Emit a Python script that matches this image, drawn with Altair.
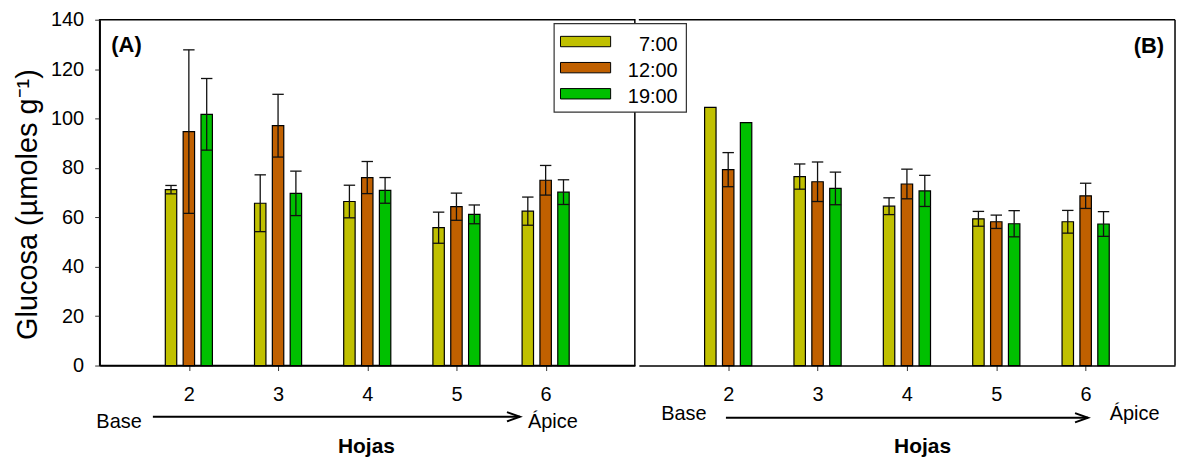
import altair as alt
import pandas as pd

# ---------------- data ----------------
leaves = [2, 3, 4, 5, 6]
series = ["7:00", "12:00", "19:00"]
colors = ["#C0C000", "#C06000", "#00C000"]

# Panel A
a_700 = [71.2, 65.7, 66.4, 55.8, 62.5]
a_700_err = [1.7, 11.5, 6.6, 6.3, 5.7]
a_1200 = [94.7, 97.1, 76.1, 64.3, 75.0]
a_1200_err = [33.1, 12.7, 6.5, 5.5, 6.0]
a_1900 = [101.7, 69.7, 70.9, 61.2, 70.2]
a_1900_err = [14.5, 9.0, 5.2, 3.8, 5.0]

# Panel B
b_700 = [104.5, 76.5, 64.5, 59.4, 58.2]
b_700_err = [None, 5.1, 3.4, 3.0, 4.6]
b_1200 = [79.3, 74.4, 73.5, 58.2, 68.7]
b_1200_err = [6.9, 8.0, 6.0, 2.7, 5.1]
b_1900 = [98.3, 71.7, 70.7, 57.4, 57.3]
b_1900_err = [None, 6.6, 6.3, 5.3, 5.0]

FONT = "Liberation Sans"
W_A, W_B, H = 537, 538, 347


def panel_df(vals, errs):
    rows = []
    for si, s in enumerate(series):
        for li, leaf in enumerate(leaves):
            v = vals[si][li]
            e = errs[si][li]
            rows.append(dict(
                serie=s, si=si, hoja=leaf, v=v,
                lo=(v - e) if e is not None else float("nan"),
                hi=(v + e) if e is not None else float("nan"),
            ))
    return pd.DataFrame(rows)


dfA = panel_df([a_700, a_1200, a_1900], [a_700_err, a_1200_err, a_1900_err])
dfB = panel_df([b_700, b_1200, b_1900], [b_700_err, b_1200_err, b_1900_err])

xscale = alt.Scale(domain=[1, 7], nice=False, zero=False, padding=0)
yscale = alt.Scale(domain=[0, 140], nice=False, zero=True, padding=0)
cscale = alt.Scale(domain=series, range=colors)

xaxis = alt.Axis(values=leaves, format="d", tickSize=5, tickColor="#333", tickWidth=1,
                 labelFontSize=20, labelPadding=14, labelColor="black", labelFont=FONT,
                 domainColor="black", domainWidth=1.5, grid=False, title=None)
yaxisA = alt.Axis(values=list(range(0, 141, 20)), tickSize=5, tickColor="#333", tickWidth=1,
                  labelFontSize=20, labelPadding=11, labelColor="black", labelFont=FONT,
                  domainColor="black", domainWidth=1.5, grid=False,
                  title="Glucosa (µmoles g⁻¹)", titleFontSize=29, titleFont=FONT,
                  titleFontWeight="normal", titleColor="black", titlePadding=8, titleY=185)

one = pd.DataFrame({"k": [0]})


def bars_layers(df, yaxis):
    base = alt.Chart(df).transform_calculate(
        xc="datum.hoja + (datum.si - 1) * 0.2",
        xl="datum.hoja + (datum.si - 1) * 0.2 - 0.064",
        xr="datum.hoja + (datum.si - 1) * 0.2 + 0.064",
    )
    bars = base.mark_bar(stroke="black", strokeWidth=1.2).encode(
        x=alt.X("xl:Q", scale=xscale, axis=xaxis),
        x2="xr:Q",
        y=alt.Y("v:Q", scale=yscale, axis=yaxis),
        y2=alt.Y2(datum=0),
        color=alt.Color("serie:N", scale=cscale, legend=None),
    )
    eb = base.transform_filter("isValid(datum.lo)")
    stem = eb.mark_rule(color="#111", strokeWidth=1.3).encode(
        x=alt.X("xc:Q", scale=xscale, axis=xaxis),
        y=alt.Y("lo:Q", scale=yscale, axis=yaxis),
        y2="hi:Q",
    )
    cap_hi = eb.mark_rule(color="#111", strokeWidth=1.3).encode(
        x=alt.X("xl:Q", scale=xscale, axis=xaxis), x2="xr:Q",
        y=alt.Y("hi:Q", scale=yscale, axis=yaxis),
    )
    cap_lo = eb.mark_rule(color="#111", strokeWidth=1.3).encode(
        x=alt.X("xl:Q", scale=xscale, axis=xaxis), x2="xr:Q",
        y=alt.Y("lo:Q", scale=yscale, axis=yaxis),
    )
    return [bars, stem, cap_hi, cap_lo]


def txt(s, x, y, size=20, weight="normal", align="left"):
    return alt.Chart(one).mark_text(text=s, font=FONT, fontSize=size, fontWeight=weight,
                                    align=align, baseline="alphabetic", color="black").encode(
        x=alt.value(x), y=alt.value(y))


def arrow(x0, x1, y):
    shaft = alt.Chart(one).mark_rule(color="black", strokeWidth=2).encode(
        x=alt.value(x0), x2=alt.value(x1), y=alt.value(y))
    head = alt.Chart(one).mark_point(shape="M-1,-0.36L0,0L-1,0.36", size=676, filled=False,
                                     stroke="black", strokeWidth=2, opacity=1).encode(
        x=alt.value(x1), y=alt.value(y))
    return [shaft, head]


# legend (drawn in panel A, overlapping the panel divide)
legend_layers = [
    alt.Chart(one).mark_rect(fill="white", stroke="#333", strokeWidth=1.2).encode(
        x=alt.value(456), x2=alt.value(588.7), y=alt.value(4), y2=alt.value(92.7))
]
for i, s in enumerate(series):
    d = pd.DataFrame({"serie": [s]})
    legend_layers.append(
        alt.Chart(d).mark_rect(stroke="black", strokeWidth=1).encode(
            x=alt.value(462.4), x2=alt.value(512.7),
            y=alt.value(16.7 + 26.2 * i), y2=alt.value(27.1 + 26.2 * i),
            color=alt.Color("serie:N", scale=cscale, legend=None)))
    legend_layers.append(
        alt.Chart(d).mark_text(font=FONT, fontSize=20, align="right", baseline="alphabetic",
                               color="black").encode(
            x=alt.value(580), y=alt.value(31 + 26.2 * i), text="serie:N"))

panelA = alt.layer(
    *bars_layers(dfA, yaxisA),
    txt("(A)", 11.7, 32, size=22, weight="bold"),
    txt("Base", -3.3, 409.7),
    *arrow(53.4, 421.7, 398.4),
    txt("Ápice", 429.7, 409.7),
    txt("Hojas", 267.7, 435.2, size=21, weight="bold", align="center"),
    *legend_layers,
).properties(width=W_A, height=H)

borderB = [
    alt.Chart(one).mark_rule(color="black", strokeWidth=1.5).encode(
        x=alt.value(0), x2=alt.value(W_B), y=alt.value(0)),
    alt.Chart(one).mark_rule(color="black", strokeWidth=1.5).encode(
        x=alt.value(W_B), y=alt.value(0), y2=alt.value(H)),
]

panelB = alt.layer(
    *bars_layers(dfB, None),
    *borderB,
    txt("(B)", 527, 33.5, size=22, weight="bold", align="right"),
    txt("Base", 22.4, 401.7),
    *arrow(87.4, 450.7, 399.4),
    txt("Ápice", 472.4, 401.7),
    txt("Hojas", 284.7, 434.7, size=21, weight="bold", align="center"),
).properties(width=W_B, height=H, view=alt.ViewBackground(stroke="transparent"))

chart = alt.hconcat(panelA, panelB, spacing=4, bounds="flush").properties(
    padding={"left": 12, "top": 8, "right": 2, "bottom": 0},
    background="white",
).configure_view(stroke="black", strokeWidth=1.5)

chart.save("out.html", embed_options={"renderer": "svg", "actions": False})
